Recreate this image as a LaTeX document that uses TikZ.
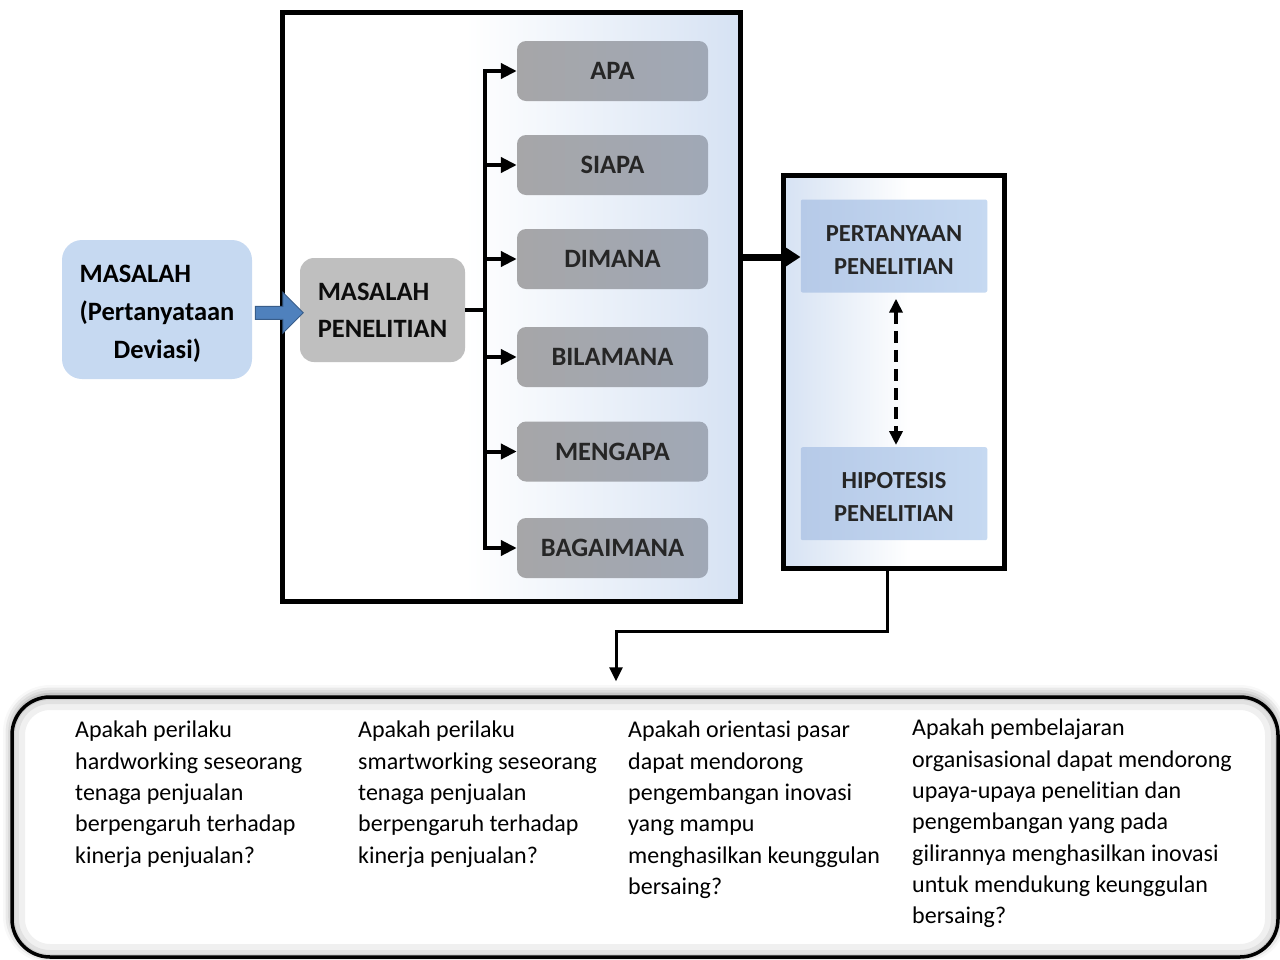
\documentclass[tikz,border=0pt]{standalone}
\usepackage{fontspec}
\setmainfont{Carlito}[Ligatures=NoCommon]
\usetikzlibrary{arrows.meta,shapes.arrows,shadows.blur,calc}

\definecolor{boxblue}{HTML}{C6D9F1}
\definecolor{boxblueL}{HTML}{B6CAE8}
\definecolor{panelblue}{HTML}{D6E2F3}
\definecolor{stepgray}{HTML}{BFBFBF}
\definecolor{qgrayL}{HTML}{A6A6A8}
\definecolor{qgrayR}{HTML}{A0A8B6}
\definecolor{darktext}{HTML}{262626}
\definecolor{arrowblue}{HTML}{4F81BD}
\definecolor{arrowedge}{HTML}{385D8A}

% panel fills: white fading into light blue (left panel) and the reverse (right panel)
\pgfdeclarehorizontalshading{leftpanel}{100bp}{color(0bp)=(white); color(45bp)=(white); color(75bp)=(panelblue); color(100bp)=(panelblue)}
\pgfdeclarehorizontalshading{rightpanel}{100bp}{color(0bp)=(panelblue); color(25bp)=(panelblue); color(54bp)=(white); color(100bp)=(white)}

\tikzset{
  frame/.style={draw, line width=5pt, rectangle, inner sep=0pt, shade},
  bluebox/.style={rectangle, rounded corners=20pt, fill=boxblue, inner sep=0pt,
    align=left, font=\fontsize{26.5}{38}\selectfont\bfseries},
  stepbox/.style={rectangle, rounded corners=14pt, fill=stepgray, inner sep=0pt,
    align=left, text=black!95, font=\fontsize{26.5}{37}\selectfont\bfseries},
  qbox/.style={rectangle, rounded corners=9pt, minimum width=191pt, minimum height=60pt,
    inner sep=0pt, left color=qgrayL, right color=qgrayR, text=darktext,
    font=\fontsize{26.5}{30}\selectfont\bfseries},
  rqbox/.style={rectangle, rounded corners=2pt, minimum width=186.5pt, minimum height=93pt,
    inner sep=0pt, left color=boxblueL, right color=boxblue, text=darktext, align=center,
    font=\fontsize{24.5}{33}\selectfont\bfseries},
  conn/.style={line width=4pt},
  branch/.style={line width=4pt, -{Triangle[length=16pt,width=15pt]}},
  qsbox/.style={rectangle, rounded corners=38pt, draw, line width=3.5pt, fill=white, inner sep=0pt,
    blur shadow={shadow xshift=0pt, shadow yshift=3pt, shadow blur radius=9pt, shadow opacity=45},
    path picture={
      \draw[black, opacity=.06, line width=26pt, rounded corners=38pt]
        (path picture bounding box.south west) rectangle (path picture bounding box.north east);
      \draw[black, opacity=.06, line width=14pt, rounded corners=38pt]
        (path picture bounding box.south west) rectangle (path picture bounding box.north east);
      \draw[black, opacity=.07, line width=6pt, rounded corners=38pt]
        (path picture bounding box.south west) rectangle (path picture bounding box.north east);
    }},
  qtext/.style={anchor=north west, inner sep=0pt, align=left, font=\fontsize{24}{31.3}\selectfont}
}

\begin{document}
\begin{tikzpicture}[x=1pt,y=-1pt]
\useasboundingbox (0,0) rectangle (1280,959);

% left starting box
\node[bluebox, minimum width=190pt, minimum height=139pt] (mas) at (157,309.5)
  {\rule{0pt}{26pt}MASALAH\\(Pertanyataan\\\hspace*{34pt}Deviasi)};

% panel of question words
\node[frame, shading=leftpanel, minimum width=458.5pt, minimum height=588.5pt] (prob) at (511.25,306.75) {};
\node[stepbox, minimum width=165pt, minimum height=104pt] (mp) at (382.5,310) {MASALAH\\PENELITIAN};

\node[qbox] (apa)     at (612.5,71)    {APA};
\node[qbox] (siapa)   at (612.5,165)   {SIAPA};
\node[qbox] (dimana)  at (612.5,259)   {DIMANA};
\node[qbox] (bila)    at (612.5,357)   {BILAMANA};
\node[qbox] (mengapa) at (612.5,451.5) {MENGAPA};
\node[qbox] (bag)     at (612.5,548)   {BAGAIMANA};

% block arrow into the problem box
\node[single arrow, draw=arrowedge, fill=arrowblue, line width=1pt, inner sep=0pt,
  minimum height=48pt, single arrow head extend=14pt] (blk)
  at ($(mas.east)!0.5!(mp.west)+(0,3)$) {\rule{0pt}{12pt}};

% branching tree
\coordinate (tk) at (485.3,310);
\draw[conn] (mp.east) -- (tk);
\draw[conn, line cap=rect] (tk |- apa.west) -- (tk |- bag.west);
\foreach \b in {apa,siapa,dimana,bila,mengapa,bag}
  \draw[branch] (tk |- \b.west) -- (\b.west);

% right panel
\node[frame, shading=rightpanel, minimum width=221.5pt, minimum height=392.5pt] (hyp) at (893.75,371.75) {};
\node[rqbox] (pq) at (894,246)   {\rule{0pt}{23pt}PERTANYAAN\\PENELITIAN};
\node[rqbox] (hy) at (894,493.7) {\rule{0pt}{23pt}HIPOTESIS\\PENELITIAN};

\coordinate (pqin) at ($(pq.west)+(0,11)$);
\draw[line width=7pt, -{Triangle[length=18pt,width=22pt]}] (prob.east |- pqin) -- (pqin);

\draw[line width=3.5pt, dash pattern=on 12pt off 7pt,
  {Triangle[length=14pt,width=13pt]}-{Triangle[length=14pt,width=13pt]}]
  ($(pq.south)+(2,6)$) -- ($(hy.north)+(2,-2)$);

% bottom list of research questions
\node[qsbox, minimum width=1266pt, minimum height=260pt] (qs) at (645,827) {};

\coordinate (bend1) at (887,631);
\coordinate (bend2) at (616,631);
\draw[line width=3pt, -{Triangle[length=14pt,width=13pt]}]
  (hyp.south -| bend1) -- (bend1) -- (bend2) -- ($(qs.north -| bend2)+(0,-14)$);

\node[qtext] (q1) at (75,721)
  {Apakah perilaku\\hardworking seseorang\\tenaga penjualan\\berpengaruh terhadap\\kinerja penjualan?};
\node[qtext] (q2) at (358,721)
  {Apakah perilaku\\smartworking seseorang\\tenaga penjualan\\berpengaruh terhadap\\kinerja penjualan?};
\node[qtext] (q3) at (628,721)
  {Apakah orientasi pasar\\dapat mendorong\\pengembangan inovasi\\yang mampu\\menghasilkan keunggulan\\bersaing?};
\node[qtext] (q4) at (912,719)
  {Apakah pembelajaran\\organisasional dapat mendorong\\upaya-upaya penelitian dan\\pengembangan yang pada\\gilirannya menghasilkan inovasi\\untuk mendukung keunggulan\\bersaing?};
\end{tikzpicture}
\end{document}
